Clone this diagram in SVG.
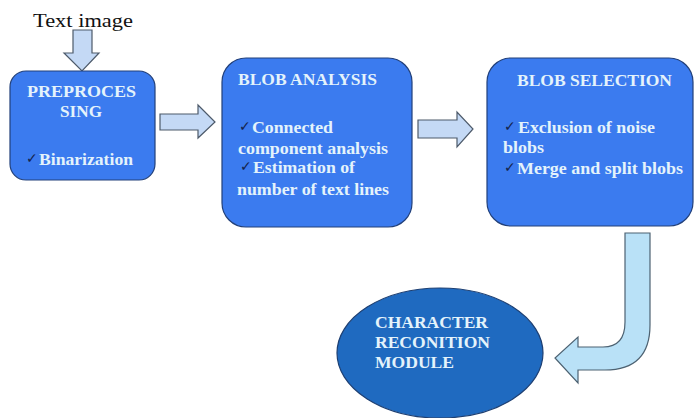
<svg xmlns="http://www.w3.org/2000/svg" width="694" height="418" viewBox="0 0 694 418">
  <style>
    .box { fill: #3b7bef; stroke: #22407a; stroke-width: 1.2; }
    .oval { fill: #1f6ac0; stroke: #1d3f72; stroke-width: 1.2; }
    .arrow { fill: #c4d9f5; stroke: #4d5a6a; stroke-width: 1.2; }
    .bend { fill: #b9e1f7; stroke: #4d6272; stroke-width: 1.2; }
    .t { font-family: "Liberation Serif", "Times New Roman", serif; font-weight: bold; font-size: 16px; fill: #e4f3fb; }
    .ck { font-family: "DejaVu Sans", sans-serif; font-size: 14px; fill: #14234a; }
    .cap { font-family: "Liberation Serif", "Times New Roman", serif; font-size: 19px; fill: #111; }
  </style>
  <rect width="694" height="418" fill="#ffffff"/>

  <g id="connectors">
    <!-- input arrow -->
    <path class="arrow" d="M73,30 L92,30 L92,53 L99,53 L82,71 L64,53 L73,53 Z"/>
    <!-- preprocessing to blob analysis -->
    <path class="arrow" d="M160,114 L198,114 L198,105 L215,122 L198,138 L198,130 L160,130 Z"/>
    <!-- blob analysis to blob selection -->
    <path class="arrow" d="M418,120 L457,120 L457,112 L473,129 L457,147 L457,138 L418,138 Z"/>
    <!-- blob selection to recognition module -->
    <path class="bend" d="M625,233 L650,233 L650,325 Q650,370 605,370 L578,370 L578,383 L555,358 L578,337 L578,347 L603,347 Q625,347 625,322 Z"/>
  </g>

  <text class="cap" x="33" y="27" textLength="100" lengthAdjust="spacingAndGlyphs">Text image</text>

  <g id="preprocessing">
    <rect class="box" x="10" y="71" width="145" height="109" rx="16"/>
    <text class="t" x="27" y="97" textLength="109" lengthAdjust="spacingAndGlyphs">PREPROCES</text>
    <text class="t" x="60" y="117" textLength="42" lengthAdjust="spacingAndGlyphs">SING</text>
    <text class="ck" x="26" y="163">✓</text>
    <text class="t" x="39" y="165" textLength="94" lengthAdjust="spacingAndGlyphs">Binarization</text>
  </g>

  <g id="blob-analysis">
    <rect class="box" x="222" y="58" width="190" height="169" rx="24"/>
    <text class="t" x="238" y="85" textLength="139" lengthAdjust="spacingAndGlyphs">BLOB ANALYSIS</text>
    <text class="ck" x="239" y="131">✓</text>
    <text class="t" x="252" y="133" textLength="81" lengthAdjust="spacingAndGlyphs">Connected</text>
    <text class="t" x="238" y="154" textLength="150" lengthAdjust="spacingAndGlyphs">component analysis</text>
    <text class="ck" x="240" y="171">✓</text>
    <text class="t" x="253" y="173" textLength="102" lengthAdjust="spacingAndGlyphs">Estimation of</text>
    <text class="t" x="237" y="195" textLength="152" lengthAdjust="spacingAndGlyphs">number of text lines</text>
  </g>

  <g id="blob-selection">
    <rect class="box" x="487" y="58" width="206" height="168" rx="24"/>
    <text class="t" x="517" y="86" textLength="155" lengthAdjust="spacingAndGlyphs">BLOB SELECTION</text>
    <text class="ck" x="504" y="131">✓</text>
    <text class="t" x="518" y="133" textLength="137" lengthAdjust="spacingAndGlyphs">Exclusion of noise</text>
    <text class="t" x="503" y="153" textLength="41" lengthAdjust="spacingAndGlyphs">blobs</text>
    <text class="ck" x="504" y="172">✓</text>
    <text class="t" x="517" y="174" textLength="166" lengthAdjust="spacingAndGlyphs">Merge and split blobs</text>
  </g>

  <g id="recognition-module">
    <ellipse class="oval" cx="440" cy="353" rx="103" ry="65"/>
    <text class="t" x="375" y="328" textLength="113" lengthAdjust="spacingAndGlyphs">CHARACTER</text>
    <text class="t" x="375" y="348" textLength="115" lengthAdjust="spacingAndGlyphs">RECONITION</text>
    <text class="t" x="375" y="368" textLength="79" lengthAdjust="spacingAndGlyphs">MODULE</text>
  </g>
</svg>
